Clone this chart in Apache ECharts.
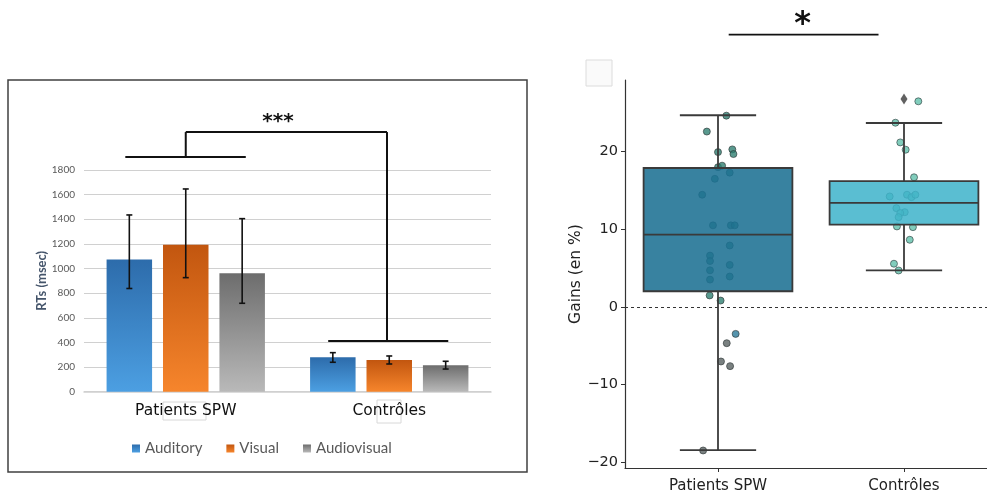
<!DOCTYPE html>
<html><head><meta charset="utf-8">
<script src="https://cdn.jsdelivr.net/npm/echarts@6/dist/echarts.min.js"></script>
<style>html,body{margin:0;padding:0;background:#fff}#c{width:987px;height:497px}</style>
</head><body><div id="c"></div>
<script>
// ---------- Left panel data (reaction times) ----------
const rtCategories = ['Patients SPW', 'Contrôles'];
const rtSeriesNames = ['Auditory', 'Visual', 'Audiovisual'];
const auditoryRT = [1073, 279];
const visualRT = [1193, 257];
const audiovisualRT = [961, 214];
const auditoryErrLow = [838, 239];
const auditoryErrHigh = [1435, 317];
const visualErrLow = [926, 225];
const visualErrHigh = [1646, 290];
const audiovisualErrLow = [718, 184];
const audiovisualErrHigh = [1405, 247];
const rtTickMax = 1800;
const rtTickStep = 200;
const rtSignificance = '***';

// ---------- Right panel data (gains) ----------
const gainCategories = ['Patients SPW', 'Contrôles'];
const patientsBox = [-18.5, 2.0, 9.3, 17.9, 24.7];   // low whisker, Q1, median, Q3, high whisker
const controlsBox = [4.7, 10.6, 13.4, 16.2, 23.7];
const controlsOutliers = [26.8];
const patientsJitter = [0.045, -0.06, 0.0, 0.077, 0.083, 0.0, 0.022, 0.063, -0.017, -0.085, -0.027, 0.069, 0.09, 0.063, -0.043, -0.043, 0.063, -0.043, 0.063, -0.043, -0.045, 0.014, 0.095, 0.047, 0.016, 0.065, -0.08];
const patientsGains  = [24.65, 22.6, 19.95, 20.3, 19.7, 18.0, 18.2, 17.3, 16.5, 14.45, 10.5, 10.5, 10.5, 7.9, 6.6, 5.9, 5.4, 4.7, 3.9, 3.5, 1.46, 0.8, -3.5, -4.7, -7.06, -7.66, -18.54];
const controlsJitter = [1.077, 0.954, 0.98, 1.009, 1.054, 0.923, 1.016, 1.04, 1.061, 0.959, 1.004, 0.98, 0.971, 0.962, 1.048, 1.031, 0.946, 0.971];
const controlsGains  = [26.5, 23.74, 21.2, 20.26, 16.7, 14.23, 14.45, 14.14, 14.45, 12.72, 12.2, 12.08, 11.56, 10.36, 10.27, 8.64, 5.55, 4.68];
const gainTicks = [-20, -10, 0, 10, 20];
const gainSignificance = '*';

// ---------- styles ----------
const BAR_W = 45.5, BAR_GAP = 0.24;
const barColors = [['#2d6cab', '#4c9fe2'], ['#c2560f', '#f6852c'], ['#6d6d6d', '#b9b9b9']];
const boxFills = ['rgba(28,113,147,0.88)', 'rgba(61,179,202,0.85)'];

const chart = echarts.init(document.getElementById('c'), null, {renderer: 'canvas'});

function grad(c) {
  return new echarts.graphic.LinearGradient(0, 0, 0, 1, [{offset: 0, color: c[0]}, {offset: 1, color: c[1]}]);
}

const rtValues = [auditoryRT, visualRT, audiovisualRT];
const rtLows = [auditoryErrLow, visualErrLow, audiovisualErrLow];
const rtHighs = [auditoryErrHigh, visualErrHigh, audiovisualErrHigh];

const series = [];
rtSeriesNames.forEach((name, i) => {
  series.push({
    type: 'bar', name, xAxisIndex: 0, yAxisIndex: 0,
    data: rtValues[i], barWidth: BAR_W, barGap: (BAR_GAP * 100) + '%',
    itemStyle: {color: grad(barColors[i])}, z: 2
  });
});
rtSeriesNames.forEach((name, i) => {
  series.push({
    type: 'custom', xAxisIndex: 0, yAxisIndex: 0, z: 5,
    data: rtCategories.map((c, k) => [k, rtLows[i][k], rtHighs[i][k]]),
    renderItem: function (params, api) {
      const lo = api.coord([api.value(0), api.value(1)]);
      const hi = api.coord([api.value(0), api.value(2)]);
      const off = (i - 1) * BAR_W * (1 + BAR_GAP);
      const x = lo[0] + off;
      const st = {stroke: '#111', lineWidth: 1.6};
      return {type: 'group', children: [
        {type: 'line', shape: {x1: x, y1: lo[1], x2: x, y2: hi[1]}, style: st},
        {type: 'line', shape: {x1: x - 3, y1: lo[1], x2: x + 3, y2: lo[1]}, style: st},
        {type: 'line', shape: {x1: x - 3, y1: hi[1], x2: x + 3, y2: hi[1]}, style: st}
      ]};
    }
  });
});
// Left significance bracket (data units; band fractions)
const rtBracket = {groupLine: 1905, topLine: 2108, ctrlLine: 412, starY: 2200};
series.push({
  type: 'custom', xAxisIndex: 0, yAxisIndex: 0, z: 6, clip: false, silent: true,
  data: [[0]],
  renderItem: function (params, api) {
    const band = api.size([1, 0])[0];
    const c0 = api.coord([0, rtBracket.groupLine]);
    const t0 = api.coord([0, rtBracket.topLine]);
    const c1 = api.coord([1, rtBracket.ctrlLine]);
    const s = api.coord([0, rtBracket.starY]);
    const st = {stroke: '#111', lineWidth: 2};
    const xr = c1[0] - 0.011 * band;
    return {type: 'group', children: [
      {type: 'line', shape: {x1: c0[0] - 0.297 * band, y1: c0[1], x2: c0[0] + 0.295 * band, y2: c0[1]}, style: st},
      {type: 'line', shape: {x1: c0[0], y1: c0[1], x2: c0[0], y2: t0[1]}, style: st},
      {type: 'line', shape: {x1: c0[0], y1: t0[1], x2: xr, y2: t0[1]}, style: st},
      {type: 'line', shape: {x1: xr, y1: t0[1], x2: xr, y2: c1[1]}, style: st},
      {type: 'line', shape: {x1: c1[0] - 0.30 * band, y1: c1[1], x2: c1[0] + 0.29 * band, y2: c1[1]}, style: st},
      {type: 'text', style: {text: rtSignificance, x: c0[0] + 0.453 * band, y: s[1] + 1, align: 'center', verticalAlign: 'middle', font: 'bold 20px "DejaVu Sans"', fill: '#111'}}
    ]};
  }
});

// Right panel: points
function patientColor(p) {
  const v = p.value[1];
  if (v < -4) return '#596262';
  if (v < 0) return '#2c7b9a';
  return '#2f7f72';
}
series.push({
  type: 'scatter', xAxisIndex: 1, yAxisIndex: 1, z: 1, zlevel: 0,
  data: patientsGains.map((v, k) => [patientsJitter[k], v]),
  symbolSize: 7,
  itemStyle: {color: patientColor, borderColor: '#2d3535', borderWidth: 0.8},
  markLine: {silent: true, symbol: 'none', data: [{yAxis: 0}], label: {show: false},
    lineStyle: {type: [3, 3], color: '#333', width: 1}}
});
series.push({
  type: 'scatter', xAxisIndex: 1, yAxisIndex: 1, z: 1, zlevel: 0,
  data: controlsGains.map((v, k) => [controlsJitter[k], v]),
  symbolSize: 7,
  itemStyle: {color: '#62c1ab', borderColor: '#2f3f3f', borderWidth: 0.8}
});
// Box plots (on a higher layer so the points show faintly through the boxes)
series.push({
  type: 'custom', xAxisIndex: 1, yAxisIndex: 1, z: 10, zlevel: 1,
  data: [[0].concat(patientsBox), [1].concat(controlsBox)],
  renderItem: function (params, api) {
    const x = api.value(0);
    const lo = api.coord([x, api.value(1)]);
    const q1 = api.coord([x, api.value(2)]);
    const md = api.coord([x, api.value(3)]);
    const q3 = api.coord([x, api.value(4)]);
    const hi = api.coord([x, api.value(5)]);
    const band = api.size([1, 0])[0];
    const bw = band * 0.8, cw = band * 0.41, cx = lo[0];
    const st = {stroke: '#3a3a3a', lineWidth: 1.8};
    return {type: 'group', children: [
      {type: 'rect', shape: {x: cx - bw / 2, y: q3[1], width: bw, height: q1[1] - q3[1]}, style: {fill: boxFills[params.dataIndex]}},
      {type: 'rect', shape: {x: cx - bw / 2, y: q3[1], width: bw, height: q1[1] - q3[1]}, style: {fill: 'none', stroke: '#3a3a3a', lineWidth: 1.8}},
      {type: 'line', shape: {x1: cx - bw / 2, y1: md[1], x2: cx + bw / 2, y2: md[1]}, style: st},
      {type: 'line', shape: {x1: cx, y1: q3[1], x2: cx, y2: hi[1]}, style: st},
      {type: 'line', shape: {x1: cx, y1: q1[1], x2: cx, y2: lo[1]}, style: st},
      {type: 'line', shape: {x1: cx - cw / 2, y1: hi[1], x2: cx + cw / 2, y2: hi[1]}, style: st},
      {type: 'line', shape: {x1: cx - cw / 2, y1: lo[1], x2: cx + cw / 2, y2: lo[1]}, style: st}
    ]};
  }
});
series.push({
  type: 'scatter', xAxisIndex: 1, yAxisIndex: 1, z: 11, zlevel: 1,
  data: controlsOutliers.map(v => [1, v]),
  symbol: 'diamond', symbolSize: [7, 11],
  itemStyle: {color: '#3a3a3a'}
});
// Right significance bar
const gainBracket = {lineY: 35.1, starY: 37.0, x1: 0.0575, x2: 0.863, starX: 0.455};
series.push({
  type: 'custom', xAxisIndex: 1, yAxisIndex: 1, z: 12, clip: false, silent: true,
  data: [[0]],
  renderItem: function (params, api) {
    const a = api.coord([gainBracket.x1, gainBracket.lineY]);
    const b = api.coord([gainBracket.x2, gainBracket.lineY]);
    const s = api.coord([gainBracket.starX, gainBracket.starY]);
    return {type: 'group', children: [
      {type: 'line', shape: {x1: a[0], y1: a[1], x2: b[0], y2: b[1]}, style: {stroke: '#111', lineWidth: 1.6}},
      {type: 'text', style: {text: gainSignificance, x: s[0], y: s[1] + 5, align: 'center', verticalAlign: 'middle', font: 'bold 32px "DejaVu Sans"', fill: '#111'}}
    ]};
  }
});

const option = {
  animation: false,
  backgroundColor: '#fff',
  legend: {
    data: rtSeriesNames, left: 127, top: 436, icon: 'rect', itemWidth: 8, itemHeight: 8, itemGap: 24,
    textStyle: {fontFamily: 'Lato', fontSize: 15, color: '#595959'}
  },
  grid: [
    {left: 84, right: 496, top: 170, bottom: 105.3, outerBoundsMode: 'none'},
    {left: 625, width: 372, top: 80, bottom: 29, outerBoundsMode: 'none'}
  ],
  xAxis: [
    {type: 'category', gridIndex: 0, data: rtCategories,
      axisLine: {lineStyle: {color: '#d0d0d0', width: 1.5}}, axisTick: {show: false},
      axisLabel: {fontFamily: 'DejaVu Sans', fontSize: 15.5, color: '#111', margin: 11}},
    {type: 'value', gridIndex: 1, min: -0.5, max: 1.5, splitLine: {show: false},
      axisLine: {onZero: false, lineStyle: {color: '#333', width: 1.2}},
      axisTick: {customValues: [0, 1], length: 4, lineStyle: {color: '#333'}},
      axisLabel: {customValues: [0, 1], formatter: v => gainCategories[Math.round(v)],
        fontFamily: 'DejaVu Sans', fontSize: 15, color: '#222', margin: 11}}
  ],
  yAxis: [
    {type: 'value', gridIndex: 0, min: 0, max: rtTickMax, interval: rtTickStep,
      axisLine: {show: false}, axisTick: {show: false},
      splitLine: {lineStyle: {color: '#d0d0d0', width: 1.2}},
      axisLabel: {formatter: v => String(v), fontFamily: 'Lato', fontSize: 10, color: '#595959', margin: 9},
      name: 'RTs (msec)', nameLocation: 'middle', nameGap: 34,
      nameTextStyle: {fontFamily: 'Lato', fontWeight: 'bold', fontSize: 13, color: '#44546a'}},
    {type: 'value', gridIndex: 1, min: -20.8, max: 29.25, splitLine: {show: false},
      axisLine: {show: true, onZero: false, lineStyle: {color: '#333', width: 1.2}},
      axisTick: {show: true, customValues: gainTicks, length: 4, lineStyle: {color: '#333'}},
      axisLabel: {customValues: gainTicks, formatter: v => (v < 0 ? '\u2212' + Math.abs(v) : String(v)),
        fontFamily: 'DejaVu Sans', fontSize: 14.5, color: '#222', margin: 7},
      name: 'Gains (en %)', nameLocation: 'middle', nameGap: 38,
      nameTextStyle: {fontFamily: 'DejaVu Sans', fontSize: 15.5, color: '#222'}}
  ],
  graphic: [
    {type: 'rect', shape: {x: 8, y: 80, width: 519, height: 392}, style: {fill: 'none', stroke: '#404040', lineWidth: 1.5}, silent: true},
    {type: 'rect', shape: {x: 163, y: 402, width: 43, height: 18}, style: {fill: 'none', stroke: '#d8d8d8', lineWidth: 1}, silent: true},
    {type: 'rect', shape: {x: 377, y: 400, width: 24, height: 23}, style: {fill: 'none', stroke: '#d8d8d8', lineWidth: 1}, silent: true},
    {type: 'rect', shape: {x: 586, y: 60, width: 26, height: 26}, style: {fill: '#fafafa', stroke: '#dcdcdc', lineWidth: 1}, silent: true}
  ],
  series
};
chart.setOption(option);
</script>
</body></html>
